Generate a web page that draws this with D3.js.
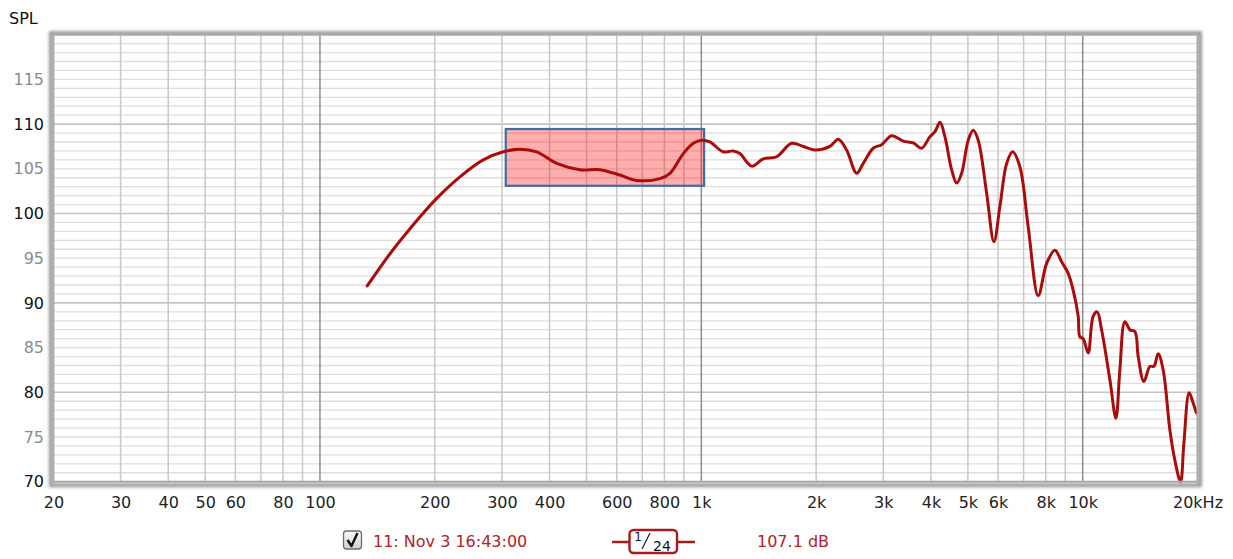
<!DOCTYPE html>
<html>
<head>
<meta charset="utf-8">
<script src="https://cdn.jsdelivr.net/npm/d3@7"></script>
<style>
  html, body { margin: 0; padding: 0; background: #fff; }
  svg { display: block; font-family: "DejaVu Sans", Verdana, sans-serif; }
</style>
</head>
<body>
<svg id="chart" width="1233" height="559"></svg>
<script>
// Frequency response measurement (1/24 octave smoothing)
const freqHz = [133, 152.6, 172.2, 200.3, 232.8, 268, 302.5, 334.5, 370, 417.5,
  480.6, 542, 611.7, 676.8, 778.9, 827.4, 896.9, 952.8, 1004, 1053,
  1141, 1212, 1262, 1355, 1453, 1576, 1725, 1850, 1986, 2174,
  2286, 2404, 2554, 2658, 2823, 2970, 3155, 3383, 3594, 3781,
  3976, 4099, 4225, 4352, 4532, 4671, 4814, 5010, 5163, 5321,
  5598, 5851, 6067, 6318, 6551, 6846, 7196, 7645, 8040, 8455,
  8806, 9162, 9443, 9732, 9833, 10030, 10337, 10650, 10915, 11207,
  11785, 12220, 12515, 12898, 13294, 13702, 13980, 14470, 15004, 15369,
  15773, 16255, 16927, 17445, 18054, 18419, 19018, 19483, 19864];
const splDb = [91.9, 95.5, 98.3, 101.5, 104.1, 106.0, 106.9, 107.2, 106.9, 105.6,
  104.9, 104.9, 104.3, 103.7, 103.9, 104.5, 106.7, 107.85, 108.2, 108.0,
  106.9, 107.0, 106.7, 105.3, 106.1, 106.35, 107.85, 107.5, 107.1, 107.5,
  108.3, 107.1, 104.5, 105.6, 107.3, 107.7, 108.7, 108.1, 107.9, 107.3,
  108.6, 109.15, 110.2, 108.6, 104.9, 103.4, 104.5, 108.2, 109.3, 108.2,
  102.3, 96.85, 100.8, 105.6, 106.9, 105.2, 98.5, 90.8, 94.4, 95.9,
  94.6, 93.3, 91.4, 88.5, 86.2, 86.0, 84.4, 88.5, 89.0, 87.0,
  81.4, 77.1, 82.5, 87.9, 87.0, 86.8, 84.0, 81.2, 82.9, 82.9,
  84.3, 82.5, 75.8, 72.4, 70.0, 74.3, 79.95, 78.8, 77.7];

// Highlighted band: frequency span and level span
const bandHz = [307, 1017];
const bandDb = [103.1, 109.45];

// Axis ticks
const xTickValues = [20, 30, 40, 50, 60, 80, 100, 200, 300, 400, 600, 800,
  1000, 2000, 3000, 4000, 5000, 6000, 8000, 10000, 20000];
const xTickLabels = ["20", "30", "40", "50", "60", "80", "100", "200", "300", "400", "600", "800",
  "1k", "2k", "3k", "4k", "5k", "6k", "8k", "10k", "20kHz"];
const yTickValues = [70, 75, 80, 85, 90, 95, 100, 105, 110, 115];

// Legend entries
const traceName = "11: Nov 3 16:43:00";
const traceLevel = "107.1 dB";
const smoothingNum = "1";
const smoothingDen = "24";

const svg = d3.select("#chart");
const plotL = 53.4, plotR = 1197.5, plotT = 34.7, plotB = 481.7;

const x = d3.scaleLog().domain([20, 20000]).range([plotL, plotR]);
const y = d3.scaleLinear().domain([70, 120]).range([plotB, plotT]);

// soft shadow around the plot frame
const defs = svg.append("defs");
const blur = defs.append("filter").attr("id", "soft")
  .attr("x", "-5%").attr("y", "-5%").attr("width", "110%").attr("height", "110%");
blur.append("feGaussianBlur").attr("stdDeviation", 1.6);
const cbGrad = defs.append("linearGradient").attr("id", "cbg")
  .attr("x1", 0).attr("y1", 0).attr("x2", 0).attr("y2", 1);
cbGrad.append("stop").attr("offset", 0).attr("stop-color", "#fafafa");
cbGrad.append("stop").attr("offset", 1).attr("stop-color", "#cfcfcf");

svg.append("rect")
  .attr("x", plotL - 2.5).attr("y", plotT - 1.5)
  .attr("width", plotR - plotL + 5).attr("height", plotB - plotT + 5)
  .attr("fill", "none").attr("stroke", "#9a9a9a").attr("stroke-width", 4)
  .attr("filter", "url(#soft)");

svg.append("rect")
  .attr("x", plotL).attr("y", plotT)
  .attr("width", plotR - plotL).attr("height", plotB - plotT)
  .attr("fill", "#fff");

const grid = svg.append("g");

// horizontal grid: every dB, darker every 10 dB
const dbLines = d3.range(71, 120);
grid.selectAll("line.h").data(dbLines).join("line")
  .attr("x1", plotL).attr("x2", plotR)
  .attr("y1", d => y(d)).attr("y2", d => y(d))
  .attr("stroke", d => d % 10 === 0 ? "#c4c4c4" : "#dedede")
  .attr("stroke-width", d => d % 10 === 0 ? 1.6 : 1.3);

// vertical grid: 1-2-3...9 per decade, darker on decades
const fLines = [];
[10, 100, 1000, 10000].forEach(dec => {
  for (let k = 1; k <= 9; k++) {
    const f = dec * k;
    if (f > 20 && f < 20000) fLines.push(f);
  }
});
grid.selectAll("line.v").data(fLines).join("line")
  .attr("x1", d => x(d)).attr("x2", d => x(d))
  .attr("y1", plotT).attr("y2", plotB)
  .attr("stroke", d => [100, 1000, 10000].includes(d) ? "#8c8c8c" : "#c8c8c8")
  .attr("stroke-width", 1.5);

// highlighted band
svg.append("rect")
  .attr("x", x(bandHz[0])).attr("y", y(bandDb[1]))
  .attr("width", x(bandHz[1]) - x(bandHz[0]))
  .attr("height", y(bandDb[0]) - y(bandDb[1]))
  .attr("fill", "#ff0000").attr("fill-opacity", 0.32)
  .attr("stroke", "#3d6fa6").attr("stroke-width", 2.2);

// response curve
const pts = freqHz.map((f, i) => [f, splDb[i]]);
const line = d3.line()
  .x(d => x(d[0])).y(d => y(d[1]))
  .curve(d3.curveCatmullRom.alpha(0.5));
svg.append("path")
  .attr("d", line(pts))
  .attr("fill", "none")
  .attr("stroke", "#aa0c0c")
  .attr("stroke-width", 3)
  .attr("stroke-linejoin", "round")
  .attr("stroke-linecap", "round");

// plot frame
svg.append("rect")
  .attr("x", plotL).attr("y", plotT)
  .attr("width", plotR - plotL).attr("height", plotB - plotT)
  .attr("fill", "none").attr("stroke", "#a8a8a8").attr("stroke-width", 2);

// axes
const xAxis = d3.axisBottom(x).tickValues(xTickValues)
  .tickFormat((d, i) => xTickLabels[i]).tickSize(0).tickPadding(0);
const gx = svg.append("g").attr("transform", `translate(0,${plotB + 21})`).call(xAxis);
gx.select(".domain").remove();
gx.selectAll("text").attr("font-size", 16).attr("fill", "#222")
  .attr("font-family", "DejaVu Sans").attr("dy", "0.32em").attr("y", 0);

const yAxis = d3.axisLeft(y).tickValues(yTickValues).tickFormat(d3.format("d"))
  .tickSize(0).tickPadding(0);
const gy = svg.append("g").attr("transform", `translate(44,0)`).call(yAxis);
gy.select(".domain").remove();
gy.selectAll("text").attr("font-size", 16)
  .attr("font-family", "DejaVu Sans")
  .attr("fill", d => d % 10 === 0 ? "#111" : "#8c8c8c");

svg.append("text").attr("x", 9).attr("y", 24)
  .attr("font-size", 16).attr("fill", "#111").text("SPL");

// legend: checkbox
svg.append("rect").attr("x", 343.5).attr("y", 531).attr("width", 18).attr("height", 18)
  .attr("rx", 3).attr("fill", "url(#cbg)").attr("stroke", "#6e6e6e").attr("stroke-width", 1.3);
svg.append("path").attr("d", "M347.5,540 L351.5,546 L357.5,533")
  .attr("fill", "none").attr("stroke", "#111").attr("stroke-width", 2.4)
  .attr("stroke-linejoin", "round");

const legendColor = "#b0222c";
svg.append("text").attr("x", 373).attr("y", 541).attr("dy", "0.35em")
  .attr("font-size", 16).attr("fill", legendColor).text(traceName);

// smoothing indicator
svg.append("line").attr("x1", 612).attr("x2", 695).attr("y1", 542).attr("y2", 542)
  .attr("stroke", "#a41c1c").attr("stroke-width", 2.4);
svg.append("rect").attr("x", 629.5).attr("y", 530).attr("width", 47.5).attr("height", 23)
  .attr("rx", 4).attr("fill", "#fff").attr("stroke", "#a41c1c").attr("stroke-width", 2.4);
svg.append("text").attr("x", 638).attr("y", 541)
  .attr("font-size", 12).attr("text-anchor", "middle").attr("fill", "#111").text(smoothingNum);
svg.append("line").attr("x1", 642).attr("y1", 549).attr("x2", 650).attr("y2", 533)
  .attr("stroke", "#111").attr("stroke-width", 1.1);
svg.append("text").attr("x", 662).attr("y", 551)
  .attr("font-size", 14).attr("text-anchor", "middle").attr("fill", "#111").text(smoothingDen);

svg.append("text").attr("x", 757).attr("y", 541).attr("dy", "0.35em")
  .attr("font-size", 16).attr("fill", legendColor).text(traceLevel);
</script>
</body>
</html>
